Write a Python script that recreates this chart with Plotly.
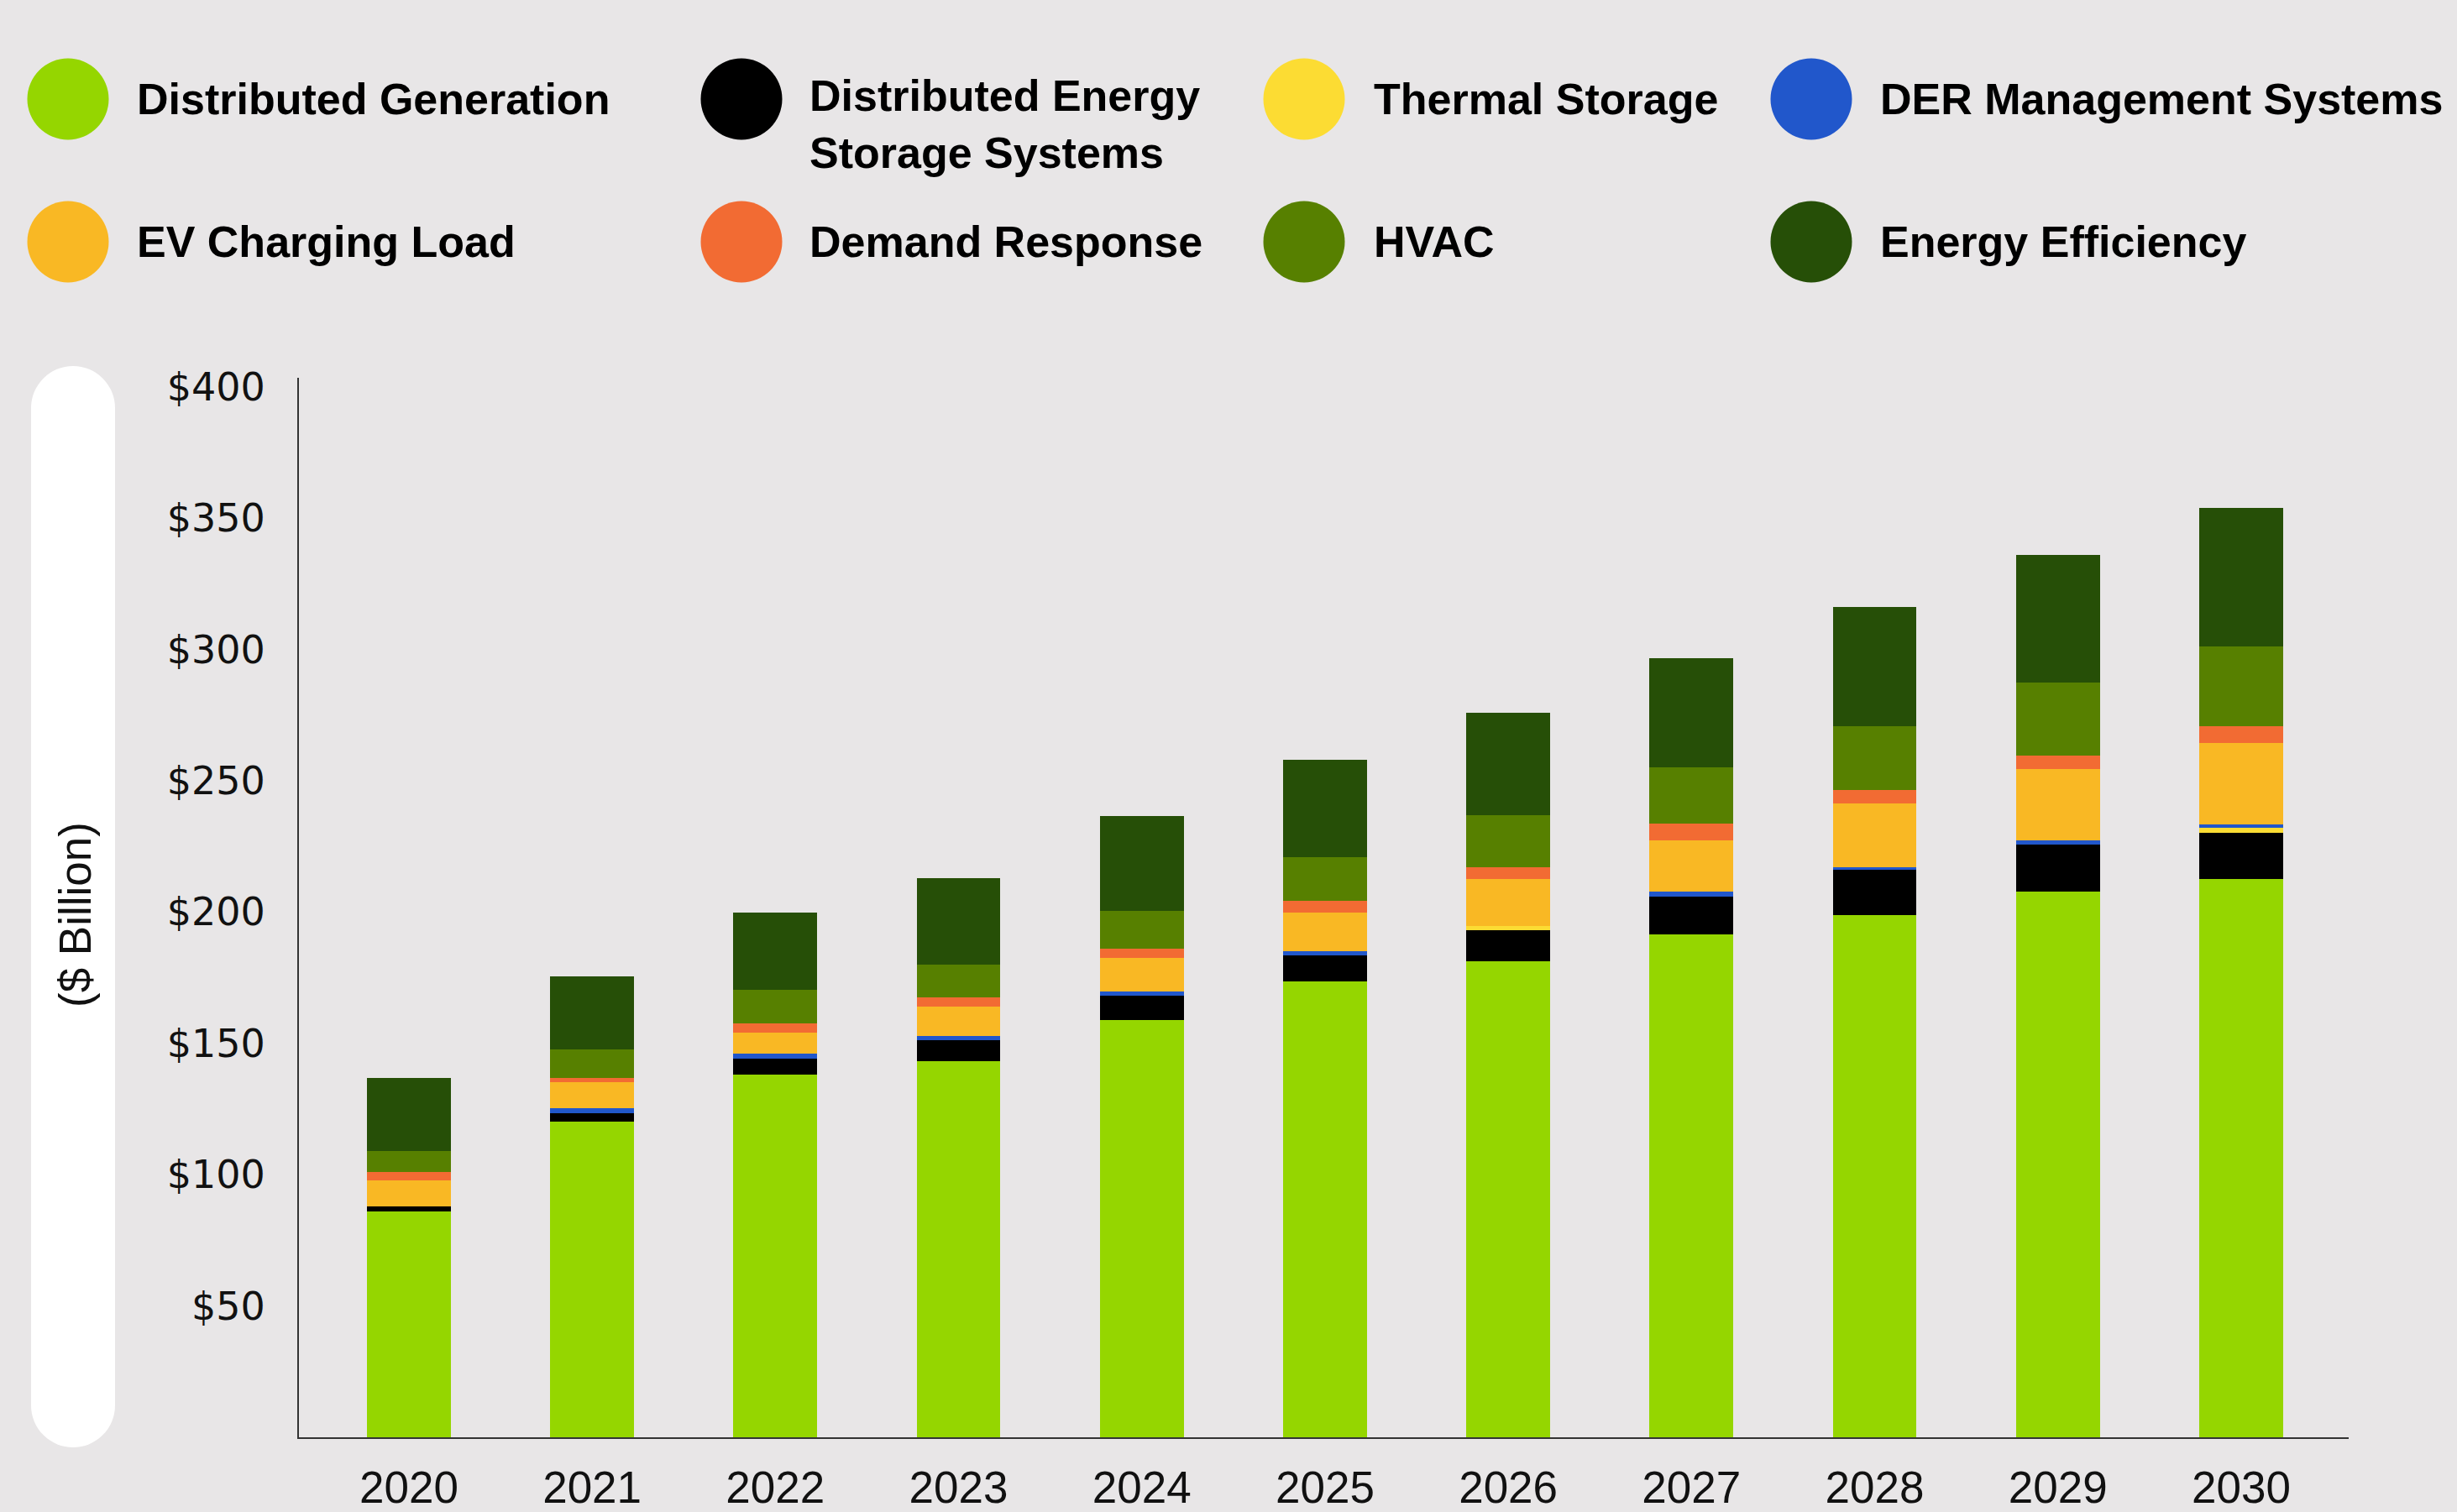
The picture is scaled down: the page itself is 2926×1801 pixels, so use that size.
import plotly.graph_objects as go

# ---------------- data ----------------
years = ["2020", "2021", "2022", "2023", "2024", "2025", "2026", "2027", "2028", "2029", "2030"]

distributed_generation = [86.0, 120.2, 138.1, 143.2, 158.9, 173.6, 181.3, 191.5, 198.8, 207.8, 212.6]
distributed_storage = [1.9, 3.2, 6.1, 8.0, 9.3, 9.9, 11.8, 14.4, 17.3, 17.9, 17.6]
thermal_storage = [0.0, 0.0, 0.0, 0.0, 0.0, 0.0, 1.6, 0.0, 0.0, 0.0, 1.9]
der_management = [0.0, 1.9, 1.9, 1.6, 1.6, 1.6, 0.0, 1.9, 1.0, 1.6, 1.3]
ev_charging = [9.9, 9.9, 8.0, 11.2, 12.7, 14.7, 17.9, 19.5, 24.3, 27.2, 31.0]
demand_response = [3.2, 1.6, 3.5, 3.5, 3.6, 4.5, 4.5, 6.4, 5.1, 5.1, 6.4]
hvac = [8.0, 10.9, 12.8, 12.5, 14.3, 16.6, 19.8, 21.4, 24.3, 27.8, 30.4]
energy_efficiency = [27.8, 27.8, 29.4, 32.9, 36.2, 37.1, 39.0, 41.6, 45.4, 48.6, 52.7]

y_tick_values = [50, 100, 150, 200, 250, 300, 350, 400]
y_tick_labels = ["$50", "$100", "$150", "$200", "$250", "$300", "$350", "$400"]

series_names = [
    "Distributed Generation",
    "Distributed Energy Storage Systems",
    "Thermal Storage",
    "DER Management Systems",
    "EV Charging Load",
    "Demand Response",
    "HVAC",
    "Energy Efficiency",
]
series_colors = ["#95D600", "#000000", "#FCDC33", "#2157CB", "#F9B824", "#F26B33", "#578000", "#264F07"]
series_values = [
    distributed_generation, distributed_storage, thermal_storage, der_management,
    ev_charging, demand_response, hvac, energy_efficiency,
]

# ---------------- layout geometry ----------------
W, H = 2926, 1801
L, R, T, B = 356, 129, 450, 89
PW, PH = W - L - R, H - T - B
BG = "#E8E6E7"


def px(x):
    return (x - L) / PW


def py(y):
    return (H - B - y) / PH


fig = go.Figure()
for name, color, vals in zip(series_names, series_colors, series_values):
    fig.add_trace(go.Bar(
        x=years, y=vals, name=name,
        marker=dict(color=color, line=dict(width=0)),
        width=0.458, showlegend=False,
    ))

shapes = []
annotations = []

# custom legend (circles + labels)
legend_items = [
    ("Distributed Generation", "#95D600", 81, 161, 118),
    ("Distributed Energy<br>Storage Systems", "#000000", 883, 962, 118),
    ("Thermal Storage", "#FCDC33", 1553, 1634, 118),
    ("DER Management Systems", "#2157CB", 2157, 2237, 118),
    ("EV Charging Load", "#F9B824", 81, 161, 288),
    ("Demand Response", "#F26B33", 883, 962, 288),
    ("HVAC", "#578000", 1553, 1634, 288),
    ("Energy Efficiency", "#264F07", 2157, 2237, 288),
]
r = 48.5
for label, color, cx, tx, cy in legend_items:
    shapes.append(dict(type="circle", xref="paper", yref="paper",
                       x0=px(cx - r), x1=px(cx + r), y0=py(cy + r), y1=py(cy - r),
                       fillcolor=color, line=dict(width=0), layer="above"))
    ty = cy
    if "<br>" in label:
        ty = cy + 30
    annotations.append(dict(text=label, xref="paper", yref="paper",
                            x=px(tx), y=py(ty), xanchor="left", yanchor="middle",
                            showarrow=False, align="left",
                            font=dict(family="Liberation Sans, Arial, sans-serif", size=52,
                                      color="#000000", weight="bold")))

# white pill behind the y-axis title
pill_x0, pill_x1, pill_y0, pill_y1, pr = 37, 137, 436, 1724, 50
shapes.append(dict(type="rect", xref="paper", yref="paper",
                   x0=px(pill_x0), x1=px(pill_x1), y0=py(pill_y1 - pr), y1=py(pill_y0 + pr),
                   fillcolor="#FFFFFF", line=dict(width=0), layer="below"))
shapes.append(dict(type="circle", xref="paper", yref="paper",
                   x0=px(pill_x0), x1=px(pill_x1), y0=py(pill_y0 + 2 * pr), y1=py(pill_y0),
                   fillcolor="#FFFFFF", line=dict(width=0), layer="below"))
shapes.append(dict(type="circle", xref="paper", yref="paper",
                   x0=px(pill_x0), x1=px(pill_x1), y0=py(pill_y1), y1=py(pill_y1 - 2 * pr),
                   fillcolor="#FFFFFF", line=dict(width=0), layer="below"))

annotations.append(dict(text="($ Billion)", xref="paper", yref="paper",
                        x=px(89), y=py(1090), xanchor="center", yanchor="middle",
                        textangle=-90, showarrow=False,
                        font=dict(family="Liberation Sans, Arial, sans-serif", size=53, color="#111111")))

fig.update_layout(
    width=W, height=H,
    margin=dict(l=L, r=R, t=T, b=B, pad=0, autoexpand=False),
    paper_bgcolor=BG, plot_bgcolor=BG,
    barmode="stack",
    showlegend=False,
    shapes=shapes,
    annotations=annotations,
    xaxis=dict(
        type="category", range=[-0.600, 10.587],
        automargin=False,
        showline=True, linecolor="#333333", linewidth=2,
        showgrid=False, zeroline=False, ticks="",
        ticklabelstandoff=12,
        tickfont=dict(family="Liberation Sans, Arial, sans-serif", size=53, color="#111111"),
    ),
    yaxis=dict(
        range=[0, 403.4],
        automargin=False,
        showline=True, linecolor="#333333", linewidth=2,
        showgrid=False, zeroline=False, ticks="",
        tickvals=y_tick_values, ticktext=y_tick_labels,
        ticklabelstandoff=29,
        tickfont=dict(family="DejaVu Sans, sans-serif", size=46, color="#111111"),
    ),
)

fig.write_html(
    "out.html",
    config={"displayModeBar": False},
    post_script="document.body.style.margin='0px';document.body.style.background='#E8E6E7';",
)
